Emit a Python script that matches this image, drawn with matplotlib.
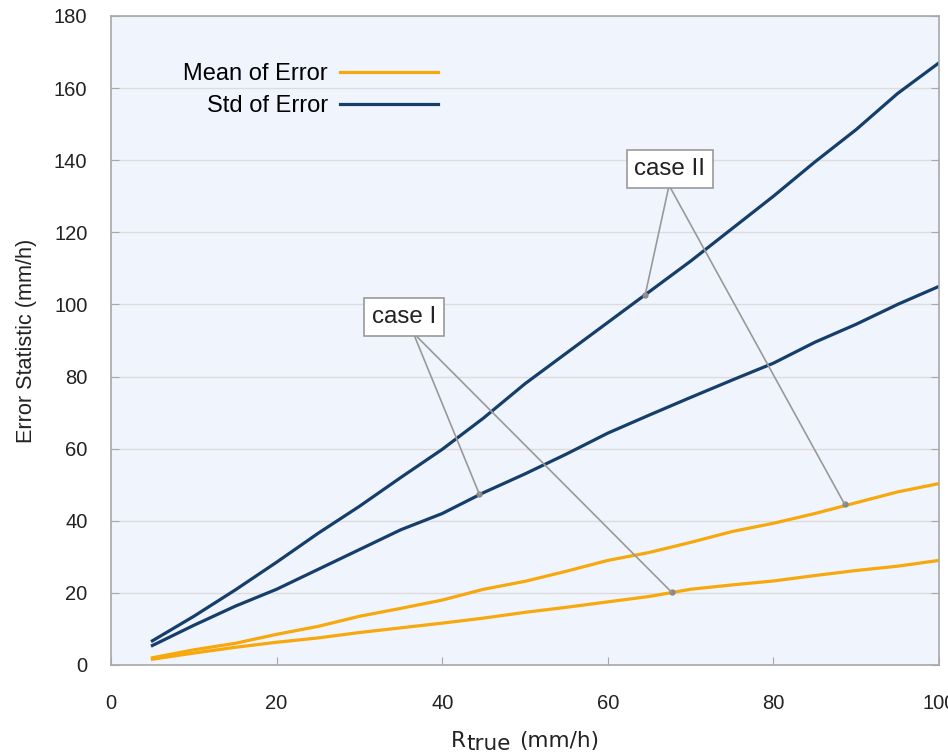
import numpy as np
import matplotlib
matplotlib.use("Agg")
import matplotlib.pyplot as plt

plt.rcParams['font.family'] = ['Liberation Sans', 'DejaVu Sans']

# rain rate (mm/h)
r_true = [5, 10, 15, 20, 25, 30, 35, 40, 45, 50, 55, 60, 65, 70, 75, 80, 85, 90, 95, 100]

# case II (upper pair), case I (lower pair)
std_case2 = [6.7, 13.5, 20.8, 28.5, 36.5, 44.0, 52.0, 59.8, 68.5, 78.0, 86.5, 95.0, 103.5, 112.0, 121.0, 130.0, 139.5, 148.5, 158.5, 167.0]
std_case1 = [5.4, 11.0, 16.3, 21.0, 26.5, 32.0, 37.5, 42.0, 47.8, 53.0, 58.5, 64.3, 69.3, 74.2, 79.0, 83.7, 89.5, 94.5, 100.0, 105.0]
mean_case2 = [2.0, 4.2, 6.0, 8.5, 10.7, 13.5, 15.7, 18.0, 21.0, 23.2, 26.0, 29.0, 31.2, 34.0, 37.0, 39.3, 42.0, 45.0, 48.0, 50.3]
mean_case1 = [1.6, 3.3, 4.9, 6.3, 7.5, 9.0, 10.3, 11.6, 13.0, 14.6, 16.0, 17.5, 19.0, 21.0, 22.2, 23.3, 24.8, 26.2, 27.4, 29.0]

yticks = [0, 20, 40, 60, 80, 100, 120, 140, 160, 180]
xticks = [0, 20, 40, 60, 80, 100]

ORANGE = '#f7a80c'
NAVY = '#153e6a'
TXT = '#222222'

fig = plt.figure(figsize=(9.48, 7.53), dpi=100)
ax = fig.add_axes([0.1171, 0.1169, 0.8734, 0.8619])
ax.set_facecolor('#f0f4fc')

ax.plot(r_true, mean_case2, color=ORANGE, lw=2.3, label='Mean of Error')
ax.plot(r_true, mean_case1, color=ORANGE, lw=2.3)
ax.plot(r_true, std_case2, color=NAVY, lw=2.3, label='Std of Error')
ax.plot(r_true, std_case1, color=NAVY, lw=2.3)

ax.set_xlim(0, 100)
ax.set_ylim(0, 180)
ax.set_xticks(xticks)
ax.set_yticks(yticks)
ax.yaxis.grid(True, color='#dcdcdc', lw=1)
ax.set_axisbelow(True)
for s in ax.spines.values():
    s.set_color('#a8a8a8')
    s.set_linewidth(1.2)
ax.tick_params(axis='both', direction='in', length=6, color='#a8a8a8', labelsize=14.5, labelcolor=TXT)
ax.tick_params(axis='x', pad=21)
ax.tick_params(axis='y', pad=17, right=True)

ax.set_ylabel('Error Statistic (mm/h)', fontsize=15.6, color=TXT, labelpad=12)

# x label: "R" with "true" dropped below, same size
fig.text(451 / 948, 1 - 747 / 753, 'R', fontsize=15.5, family='DejaVu Sans', color=TXT, va='baseline')
fig.text(466 / 948, 1 - 750 / 753, 'true', fontsize=15.5, family='DejaVu Sans', color=TXT, va='baseline')
fig.text(519 / 948, 1 - 747 / 753, '(mm/h)', fontsize=15.5, family='DejaVu Sans', color=TXT, va='baseline')

ax.legend(loc='upper right', bbox_to_anchor=(0.409, 0.945), markerfirst=False, frameon=False,
          fontsize=17, handlelength=4.15, handletextpad=0.5, labelspacing=0.42, borderpad=0)

# annotations
box = dict(boxstyle='square,pad=0.32', fc='white', ec='#999999', lw=1.2)
line = dict(arrowstyle='-', color='#999999', lw=1.2, shrinkA=0, shrinkB=0)

ax.text(35.4, 96.5, 'case I', ha='center', va='center', fontsize=17.4, color=TXT, bbox=box, zorder=5)
for pt in [(44.5, 47.3), (67.7, 20.2)]:
    ax.annotate('', xy=pt, xytext=(36.5, 92.1), arrowprops=line)
    ax.plot(*pt, 'o', ms=3.5, color='#888888')

ax.text(67.5, 137.5, 'case II', ha='center', va='center', fontsize=17.4, color=TXT, bbox=box, zorder=5)
for pt in [(64.5, 102.5), (88.6, 44.6)]:
    ax.annotate('', xy=pt, xytext=(67.4, 133.0), arrowprops=line)
    ax.plot(*pt, 'o', ms=3.5, color='#888888')

fig.savefig('out.png', dpi=100)
